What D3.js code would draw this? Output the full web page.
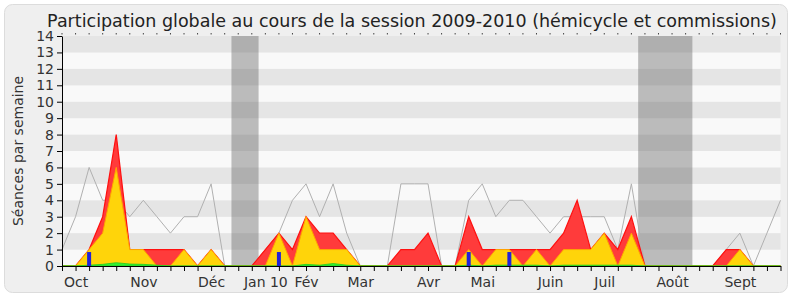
<!DOCTYPE html>
<html>
<head>
<meta charset="utf-8">
<script src="https://d3js.org/d3.v7.min.js"></script>
<style>
  body { margin: 0; background: #fff; }
  text { font-family: "DejaVu Sans", sans-serif; }
</style>
</head>
<body>
<svg width="800" height="300"></svg>
<script>
// une valeur par semaine de la session (index 0 = fin septembre 2009)
var moisLabels  = ["Oct", "Nov", "Déc", "Jan 10", "Fév", "Mar", "Avr", "Mai", "Juin", "Juil", "Août", "Sept"];
var moisSemaine = [1, 6, 11, 15, 18, 22, 27, 31, 36, 40, 45, 50];
var vacances    = [[13, 14], [43, 46]];
var yTicks      = [0, 1, 2, 3, 4, 5, 6, 7, 8, 9, 10, 11, 12, 13, 14];

// mediane des deputes (ligne grise)
var mediane = [1, 3, 6, 4, 4, 3, 4, 3, 2, 3,
               3, 5, 0, 0, 0, 1, 2, 4, 5, 3,
               5, 2, 0, 0, 0, 5, 5, 5, 0, 0,
               4, 5, 3, 4, 4, 3, 2, 3, 3, 3,
               3, 1, 5, 0, 0, 0, 0, 0, 0, 1,
               2, 0, 2, 4];
// presences totales (rouge)
var presences = [0, 0, 1, 3, 8, 1, 1, 1, 1, 1,
                 0, 1, 0, 0, 0, 1, 2, 1, 3, 2,
                 2, 1, 0, 0, 0, 1, 1, 2, 0, 0,
                 3, 1, 1, 1, 1, 1, 1, 2, 4, 1,
                 2, 1, 3, 0, 0, 0, 0, 0, 0, 1,
                 1, 0, 0, 0];
// presences hemicycle (jaune)
var hemicycle = [0, 0, 1, 2, 6, 1, 1, 0, 0, 1,
                 0, 1, 0, 0, 0, 0, 2, 0, 3, 1,
                 1, 1, 0, 0, 0, 0, 0, 0, 0, 0,
                 1, 0, 1, 1, 0, 1, 0, 1, 1, 1,
                 2, 0, 2, 0, 0, 0, 0, 0, 0, 0,
                 1, 0, 0, 0];
// interventions (vert)
var interventions = [0, 0, 0.05, 0.1, 0.2, 0.12, 0.1, 0.05, 0, 0,
                     0, 0, 0, 0, 0, 0, 0, 0, 0.1, 0.05,
                     0.15, 0.05, 0, 0, 0, 0, 0, 0, 0, 0,
                     0.05, 0, 0.05, 0.05, 0.05, 0.05, 0, 0.05, 0.05, 0.05,
                     0.05, 0.05, 0.05, 0, 0, 0, 0, 0, 0, 0,
                     0, 0, 0, 0];
// questions orales (bleu)
var questions = [0, 0, 0.85, 0, 0, 0, 0, 0, 0, 0,
                 0, 0, 0, 0, 0, 0, 0.85, 0, 0, 0,
                 0, 0, 0, 0, 0, 0, 0, 0, 0, 0,
                 0.85, 0, 0, 0.85, 0, 0, 0, 0, 0, 0,
                 0, 0, 0, 0, 0, 0, 0, 0, 0, 0,
                 0, 0, 0, 0];

var svg = d3.select("svg");
var mLeft = 62, mRight = 780.5, mTop = 36, mBottom = 266;

var x = d3.scaleLinear().domain([0, mediane.length - 1]).range([mLeft, mRight]);
var y = d3.scaleLinear().domain([0, 14]).range([mBottom, mTop]);

// cadre
svg.append("rect")
   .attr("x", 4.5).attr("y", 4.5).attr("width", 783).attr("height", 288)
   .attr("rx", 8)
   .attr("fill", "#efefef").attr("stroke", "#dcdcdc");

svg.append("text")
   .attr("x", 412).attr("y", 27)
   .attr("text-anchor", "middle")
   .attr("font-size", "17.5px")
   .attr("fill", "#222")
   .text("Participation globale au cours de la session 2009-2010 (hémicycle et commissions)");

// bandes horizontales
svg.selectAll(".bande")
   .data(yTicks.slice(0, -1))
   .enter().append("rect")
   .attr("x", mLeft).attr("width", mRight - mLeft)
   .attr("y", function(d) { return y(d + 1); })
   .attr("height", function(d) { return y(d) - y(d + 1); })
   .attr("fill", function(d) { return d % 2 ? "#e5e5e5" : "#f9f9f9"; });

// vacances parlementaires
svg.selectAll(".vac")
   .data(vacances)
   .enter().append("rect")
   .attr("x", function(d) { return x(d[0] - 0.5); })
   .attr("width", function(d) { return x(d[1] + 0.5) - x(d[0] - 0.5); })
   .attr("y", mTop).attr("height", mBottom - mTop)
   .attr("fill", "#5e5e5e").attr("fill-opacity", 0.4);

// petits reperes en haut
svg.selectAll(".dot")
   .data(mediane)
   .enter().append("rect")
   .attr("x", function(d, i) { return x(i) - 0.5; })
   .attr("y", 33).attr("width", 1).attr("height", 1.5)
   .attr("fill", "#444");

var line = d3.line()
    .x(function(d, i) { return x(i); })
    .y(function(d) { return y(d); });

var area = d3.area()
    .x(function(d, i) { return x(i); })
    .y0(y(0))
    .y1(function(d) { return y(d); });

svg.append("path").datum(mediane)
   .attr("d", line)
   .attr("fill", "none").attr("stroke", "#b0b0b0").attr("stroke-width", 1);

svg.append("path").datum(presences)
   .attr("d", area)
   .attr("fill", "#ff3b3b").attr("stroke", "#ff1010").attr("stroke-width", 1.2);

svg.append("path").datum(hemicycle)
   .attr("d", area)
   .attr("fill", "#ffd40a").attr("stroke", "#ffa500").attr("stroke-width", 1);

svg.append("path").datum(interventions)
   .attr("d", area)
   .attr("fill", "#33ee33").attr("stroke", "#22cc22").attr("stroke-width", 0.8);

svg.selectAll(".question")
   .data(questions.map(function(v, i) { return { i: i, v: v }; })
                  .filter(function(d) { return d.v > 0; }))
   .enter().append("rect")
   .attr("class", "question")
   .attr("x", function(d) { return x(d.i) - 2; })
   .attr("width", 4)
   .attr("y", function(d) { return y(d.v); })
   .attr("height", function(d) { return y(0) - y(d.v); })
   .attr("fill", "#2323d8");

// axes
var yAxis = svg.append("g")
   .attr("transform", "translate(" + mLeft + ",0)")
   .call(d3.axisLeft(y).tickValues(yTicks).tickSize(5).tickSizeOuter(0));
yAxis.selectAll("text").attr("font-size", "14px").attr("fill", "#333").attr("font-family", "DejaVu Sans");
yAxis.select(".domain").attr("stroke", "#000");

var xAxis = svg.append("g")
   .attr("transform", "translate(0," + mBottom + ")")
   .call(d3.axisBottom(x)
        .tickValues(d3.range(mediane.length))
        .tickSize(5).tickSizeOuter(0)
        .tickFormat(function(i) {
            var k = moisSemaine.indexOf(i);
            return k >= 0 ? moisLabels[k] : "";
        }));
xAxis.selectAll("text").attr("font-size", "14px").attr("fill", "#333").attr("font-family", "DejaVu Sans").attr("dy", "0.9em");
xAxis.select(".domain").attr("stroke", "#000");

svg.append("text")
   .attr("transform", "translate(23," + ((mTop + mBottom) / 2) + ") rotate(-90)")
   .attr("text-anchor", "middle")
   .attr("font-size", "14px")
   .attr("fill", "#333")
   .text("Séances par semaine");
</script>
</body>
</html>
